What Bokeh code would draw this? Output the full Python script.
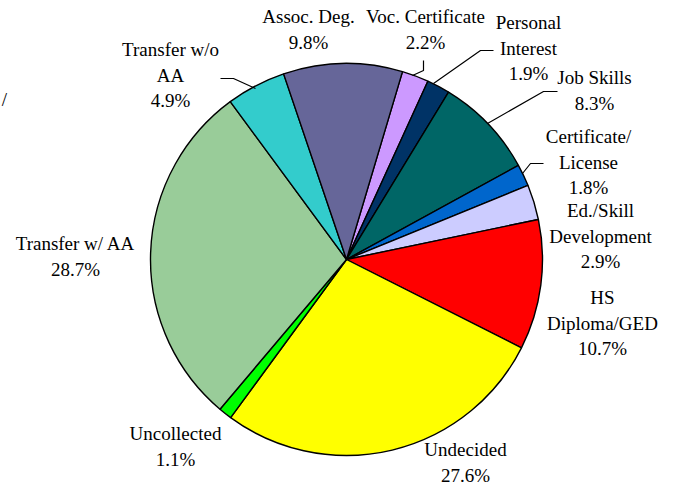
import math
from bokeh.plotting import figure
from bokeh.models import Range1d, ColumnDataSource
from bokeh.core.properties import value
from bokeh.embed import file_html
from bokeh.resources import INLINE

# ---- data (clockwise order) ----
categories = ["Voc. Certificate", "Personal\nInterest", "Job Skills", "Certificate/\nLicense",
              "Ed./Skill\nDevelopment", "HS\nDiploma/GED", "Undecided", "Uncollected",
              "Transfer w/ AA", "Transfer w/o\nAA", "Assoc. Deg."]
values = [2.2, 1.9, 8.3, 1.8, 2.9, 10.7, 27.6, 1.1, 28.7, 4.9, 9.8]
colors = ["#CC99FF", "#003366", "#006666", "#0066CC", "#CCCCFF", "#FF0000",
          "#FFFF00", "#00FF00", "#99CC99", "#33CCCC", "#666699"]
stray_text = ["/"]

# ---- layout (screen px, from the top-left of the plot) ----
W, H = 661, 488
CX, CY, R = 346, 259, 196
START_DEG = 16.6  # clockwise from 12 o'clock
label_pos = [(425, 16), (528, 22), (594, 77), (588, 136), (600, 210), (602, 297),
             (465, 449), (175, 433), (75, 243), (170, 49), (308, 16)]
LINE_H = 25.6
leaders = [
    [(423, 60), (423, 70), (412, 75)],
    [(493, 50), (480, 50), (433, 83)],
    [(557, 91), (543, 91), (487, 123)],
    [(543, 163), (530, 163), (522, 173)],
    [(220, 78), (233, 78), (255, 88)],
]
stray_pos = [(4, 99)]

def Y(y):
    return H - y

p = figure(width=W, height=H, output_backend="svg", toolbar_location=None,
           x_range=Range1d(0, W), y_range=Range1d(0, H),
           min_border=0, outline_line_color=None)
p.axis.visible = False
p.grid.visible = False

total = sum(values)
starts, ends = [], []
cum = START_DEG
for v in values:
    a0 = cum
    a1 = cum + v / total * 360.0
    starts.append(math.radians(90 - a0))
    ends.append(math.radians(90 - a1))
    cum = a1

src = ColumnDataSource(dict(x=[CX] * len(values), y=[Y(CY)] * len(values),
                            start=starts, end=ends, color=colors))
p.wedge(x="x", y="y", radius=R, start_angle="start", end_angle="end",
        direction="clock", fill_color="color", line_color="black", line_width=1.4,
        source=src)

# labels
tx, ty, tt = [], [], []
for name, v, (lx, ly) in zip(categories, values, label_pos):
    lines = name.split("\n") + [f"{v:.1f}%"]
    for i, ln in enumerate(lines):
        tx.append(lx)
        ty.append(Y(ly + i * LINE_H))
        tt.append(ln)
for s, (sx, sy) in zip(stray_text, stray_pos):
    tx.append(sx)
    ty.append(Y(sy))
    tt.append(s)
tsrc = ColumnDataSource(dict(x=tx, y=ty, text=tt))
p.text(x="x", y="y", text="text", source=tsrc, text_align="center", text_baseline="middle",
       text_font=value("Times New Roman"), text_font_size="19px", text_color="black")

for seg in leaders:
    p.line([q[0] for q in seg], [Y(q[1]) for q in seg], line_color="black", line_width=1.2)

open("out.html", "w").write(file_html(p, INLINE))
